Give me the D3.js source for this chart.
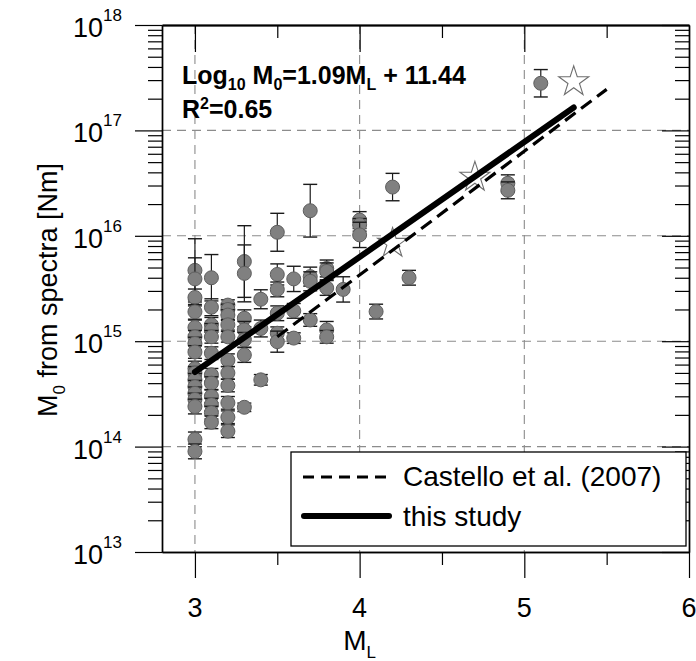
<!DOCTYPE html>
<html>
<head>
<meta charset="utf-8">
<script src="https://cdn.jsdelivr.net/npm/d3@7"></script>
<style>
  body { margin: 0; background: #fff; }
  svg text { font-family: "Liberation Sans", Arial, sans-serif; fill: #000; }
</style>
</head>
<body>
<div id="chart"></div>
<script>

// ---- data ----
// magnitude ML of each event
const mlValues = [
    3.0, 3.0, 3.0, 3.0, 3.0, 3.0, 3.0, 3.0, 3.0, 3.0, 3.0, 3.0, 3.0, 3.0, 3.0, 3.0, 3.0,
    3.1, 3.1, 3.1, 3.1, 3.1, 3.1, 3.1, 3.1, 3.1, 3.1, 3.1, 3.1,
    3.2, 3.2, 3.2, 3.2, 3.2, 3.2, 3.2, 3.2, 3.2, 3.2, 3.2,
    3.3, 3.3, 3.3, 3.3, 3.3, 3.3, 3.3,
    3.4, 3.4, 3.4,
    3.5, 3.5, 3.5, 3.5, 3.5, 3.5,
    3.6, 3.6, 3.6,
    3.7, 3.7, 3.7, 3.7,
    3.8, 3.8, 3.8, 3.8, 3.8,
    3.9,
    4.0, 4.0, 4.0,
    4.1, 4.2, 4.3,
    4.9, 4.9,
    5.1
];
// seismic moment M0 from spectra [Nm]
const m0Values = [
    4.7e15, 3.9e15, 2.6e15, 1.9e15, 1.35e15, 1.1e15, 9.5e14, 7.9e14, 5.5e14, 5.0e14, 4.3e14, 3.7e14, 3.2e14, 2.8e14, 2.4e14, 1.17e14, 9.0e13,
    4.0e15, 2.1e15, 1.43e15, 1.28e15, 1.1e15, 7.7e14, 4.8e14, 4.0e14, 3.0e14, 2.5e14, 2.1e14, 1.7e14,
    2.2e15, 2.0e15, 1.77e15, 1.43e15, 1.1e15, 6.6e14, 5.0e14, 3.8e14, 2.6e14, 1.9e14, 1.4e14,
    5.7e15, 4.4e15, 1.65e15, 1.28e15, 1.03e15, 7.4e14, 2.36e14,
    2.5e15, 1.32e15, 4.3e14,
    1.08e16, 4.3e15, 3.1e15, 1.84e15, 1.19e15, 9.9e14,
    3.9e15, 1.94e15, 1.07e15,
    1.73e16, 4.1e15, 3.7e15, 1.59e15,
    4.9e15, 4.6e15, 3.2e15, 1.28e15, 1.1e15,
    3.1e15,
    1.41e16, 1.27e16, 1.02e16,
    1.91e15, 2.9e16, 4.0e15,
    3.15e16, 2.7e16,
    2.8e17
];
// half length of each error bar, in decades
const errValues = [
    0.30, 0.20, 0.08, 0.07, 0.07, 0.06, 0.06, 0.06, 0.07, 0.06, 0.06, 0.06, 0.06, 0.06, 0.07, 0.07, 0.07,
    0.22, 0.08, 0.07, 0.06, 0.06, 0.06, 0.06, 0.06, 0.06, 0.06, 0.06, 0.06,
    0.05, 0.05, 0.05, 0.05, 0.05, 0.06, 0.06, 0.06, 0.06, 0.06, 0.06,
    0.34, 0.27, 0.08, 0.08, 0.07, 0.07, 0.04,
    0.09, 0.08, 0.05,
    0.18, 0.10, 0.07, 0.07, 0.06, 0.10,
    0.12, 0.07, 0.05,
    0.25, 0.09, 0.09, 0.06,
    0.08, 0.08, 0.07, 0.08, 0.06,
    0.12,
    0.08, 0.06, 0.12,
    0.07, 0.13, 0.07,
    0.08, 0.08,
    0.13
];

// hollow stars
const starML = [4.2, 4.7, 5.3];
const starM0 = [8.5e15, 3.6e16, 2.9e17];

// regression lines (end points)
const studyML = [3.0, 5.3];
const studyM0 = [5.1e14, 1.65e17];
const castelloML = [3.5, 5.5];
const castelloM0 = [1.1e15, 2.45e17];

// ticks
const xMajor = [3, 4, 5, 6];
const xMinor = [3.5, 4.5, 5.5];
const yExponents = [13, 14, 15, 16, 17, 18];
const xGrid = [3, 4, 5];
const yGrid = [1e14, 1e15, 1e16, 1e17];

const legendLabels = ["Castello et al. (2007)", "this study"];

// ---- layout ----
const W = 696, H = 661;
const margin = { top: 25, right: 7, bottom: 109, left: 162 };
const width = W - margin.left - margin.right;
const height = H - margin.top - margin.bottom;

const svg = d3.select("#chart")
    .append("svg")
    .attr("width", W)
    .attr("height", H);

const x = d3.scaleLinear().domain([2.8, 6]).range([0, width]);
const y = d3.scaleLog().domain([1e13, 1e18]).range([height, 0]);

const g = svg.append("g")
    .attr("transform", `translate(${margin.left}, ${margin.top})`);

// minor log ticks
const yMinor = [];
for (let e = 13; e < 18; e++) {
    for (let k = 2; k <= 9; k++) yMinor.push(k * Math.pow(10, e));
}
const yMajor = yExponents.map(e => Math.pow(10, e));

// grid
g.selectAll(".vgrid")
    .data(xGrid)
    .enter()
    .append("line")
        .attr("x1", d => x(d)).attr("x2", d => x(d))
        .attr("y1", 0).attr("y2", height)
        .attr("stroke", "#8c8c8c")
        .attr("stroke-width", 1.1)
        .attr("stroke-dasharray", "9,6");

g.selectAll(".hgrid")
    .data(yGrid)
    .enter()
    .append("line")
        .attr("x1", 0).attr("x2", width)
        .attr("y1", d => y(d)).attr("y2", d => y(d))
        .attr("stroke", "#8c8c8c")
        .attr("stroke-width", 1.1)
        .attr("stroke-dasharray", "9,6");

// axes
function styleAxis(sel) {
    sel.selectAll("path").attr("stroke", "#000").attr("stroke-width", 1.4);
    sel.selectAll("line").attr("stroke", "#000").attr("stroke-width", 1.2);
    sel.selectAll("text").remove();
}

g.append("g").attr("transform", `translate(0, ${height})`)
    .call(d3.axisBottom(x).tickValues(xMinor).tickSize(13).tickSizeOuter(0))
    .call(styleAxis);
g.append("g").attr("transform", `translate(0, ${height})`)
    .call(d3.axisBottom(x).tickValues(xMajor).tickSize(26).tickSizeOuter(0))
    .call(styleAxis);

g.append("g")
    .call(d3.axisBottom(x).tickValues(xMinor).tickSize(13).tickSizeOuter(0))
    .call(styleAxis);
g.append("g")
    .call(d3.axisBottom(x).tickValues([3, 4, 5]).tickSize(27).tickSizeOuter(0))
    .call(styleAxis)
    .select("path").attr("stroke-width", 2.2);

g.append("g")
    .call(d3.axisLeft(y).tickValues(yMinor).tickSize(14).tickSizeOuter(0))
    .call(styleAxis);
g.append("g")
    .call(d3.axisLeft(y).tickValues(yMajor).tickSize(27).tickSizeOuter(0))
    .call(styleAxis);

g.append("g").attr("transform", `translate(${width}, 0)`)
    .call(d3.axisLeft(y).tickValues(yMinor).tickSize(14).tickSizeOuter(0))
    .call(styleAxis);
g.append("g").attr("transform", `translate(${width}, 0)`)
    .call(d3.axisLeft(y).tickValues(yMajor).tickSize(27).tickSizeOuter(0))
    .call(styleAxis);

// tick labels
g.selectAll(".xlab")
    .data(xMajor)
    .enter()
    .append("text")
        .attr("x", d => x(d))
        .attr("y", height + 65)
        .attr("text-anchor", "middle")
        .style("font-size", "27px")
        .text(d => d);

const ylab = g.selectAll(".ylab")
    .data(yExponents)
    .enter()
    .append("text")
        .attr("x", -89)
        .attr("y", d => y(Math.pow(10, d)) + 12)
        .style("font-size", "27px");
ylab.append("tspan").text("10");
ylab.append("tspan")
    .attr("dy", -16)
    .style("font-size", "17px")
    .text(d => d);

// axis titles
const xt = svg.append("text")
    .attr("x", margin.left + x(4))
    .attr("y", 650)
    .attr("text-anchor", "middle")
    .style("font-size", "28px");
xt.append("tspan").text("M");
xt.append("tspan").attr("dy", 8).style("font-size", "17px").text("L");

const yt = svg.append("text")
    .attr("transform", "translate(57, 290) rotate(-90)")
    .attr("text-anchor", "middle")
    .style("font-size", "27px");
yt.append("tspan").text("M");
yt.append("tspan").attr("dy", 8).style("font-size", "17px").text("0");
yt.append("tspan").attr("dy", -8).text(" from spectra [Nm]");

// points with error bars
const points = mlValues.map((ml, i) => ({ ml: ml, m0: m0Values[i], err: errValues[i] }));

const pt = g.selectAll(".pt")
    .data(points)
    .enter()
    .append("g");

pt.append("line")
    .attr("x1", d => x(d.ml)).attr("x2", d => x(d.ml))
    .attr("y1", d => y(d.m0 * Math.pow(10, d.err)))
    .attr("y2", d => y(d.m0 / Math.pow(10, d.err)))
    .attr("stroke", "#1a1a1a").attr("stroke-width", 1.2);
pt.append("line")
    .attr("x1", d => x(d.ml) - 7).attr("x2", d => x(d.ml) + 7)
    .attr("y1", d => y(d.m0 * Math.pow(10, d.err)))
    .attr("y2", d => y(d.m0 * Math.pow(10, d.err)))
    .attr("stroke", "#1a1a1a").attr("stroke-width", 1.4);
pt.append("line")
    .attr("x1", d => x(d.ml) - 7).attr("x2", d => x(d.ml) + 7)
    .attr("y1", d => y(d.m0 / Math.pow(10, d.err)))
    .attr("y2", d => y(d.m0 / Math.pow(10, d.err)))
    .attr("stroke", "#1a1a1a").attr("stroke-width", 1.4);
pt.append("circle")
    .attr("cx", d => x(d.ml))
    .attr("cy", d => y(d.m0))
    .attr("r", 7)
    .attr("fill", "#808080")
    .attr("stroke", "#5e5e5e")
    .attr("stroke-width", 1);

// stars
const star = d3.symbol().type(d3.symbolStar).size(280);
g.selectAll(".star")
    .data(starML.map((ml, i) => ({ ml: ml, m0: starM0[i] })))
    .enter()
    .append("path")
        .attr("d", star)
        .attr("transform", d => `translate(${x(d.ml)}, ${y(d.m0)})`)
        .attr("fill", "#fff")
        .attr("stroke", "#6e6e6e")
        .attr("stroke-width", 1.1);

// regression lines
const line = d3.line().x(d => x(d[0])).y(d => y(d[1]));

g.append("path")
    .datum(castelloML.map((ml, i) => [ml, castelloM0[i]]))
    .attr("d", line)
    .attr("fill", "none")
    .attr("stroke", "#000")
    .attr("stroke-width", 3.2)
    .attr("stroke-dasharray", "13,7");

g.append("path")
    .datum(studyML.map((ml, i) => [ml, studyM0[i]]))
    .attr("d", line)
    .attr("fill", "none")
    .attr("stroke", "#000")
    .attr("stroke-width", 6)
    .attr("stroke-linecap", "round");

// equation
const eq = svg.append("text")
    .attr("x", 182).attr("y", 84)
    .style("font-size", "25px")
    .style("font-weight", "bold");
eq.append("tspan").text("Log");
eq.append("tspan").attr("dy", 6).style("font-size", "16px").text("10");
eq.append("tspan").attr("dy", -6).text(" M");
eq.append("tspan").attr("dy", 6).style("font-size", "16px").text("0");
eq.append("tspan").attr("dy", -6).text("=1.09M");
eq.append("tspan").attr("dy", 6).style("font-size", "16px").text("L");
eq.append("tspan").attr("dy", -6).text(" + 11.44");

const r2 = svg.append("text")
    .attr("x", 182).attr("y", 118)
    .style("font-size", "25px")
    .style("font-weight", "bold");
r2.append("tspan").text("R");
r2.append("tspan").attr("dy", -9).style("font-size", "16px").text("2");
r2.append("tspan").attr("dy", 9).text("=0.65");

// legend
const legend = svg.append("g");
legend.append("rect")
    .attr("x", 291).attr("y", 452)
    .attr("width", 395).attr("height", 94)
    .attr("fill", "#fff")
    .attr("stroke", "#000")
    .attr("stroke-width", 1.3);
legend.append("line")
    .attr("x1", 303).attr("x2", 391)
    .attr("y1", 477).attr("y2", 477)
    .attr("stroke", "#000")
    .attr("stroke-width", 3.2)
    .attr("stroke-dasharray", "11,7");
legend.append("line")
    .attr("x1", 304).attr("x2", 389)
    .attr("y1", 516).attr("y2", 516)
    .attr("stroke", "#000")
    .attr("stroke-width", 6)
    .attr("stroke-linecap", "round");
legend.selectAll(".ltxt")
    .data(legendLabels)
    .enter()
    .append("text")
        .attr("x", 403)
        .attr("y", (d, i) => 486 + i * 40)
        .style("font-size", "28px")
        .text(d => d);

</script>
</body>
</html>
